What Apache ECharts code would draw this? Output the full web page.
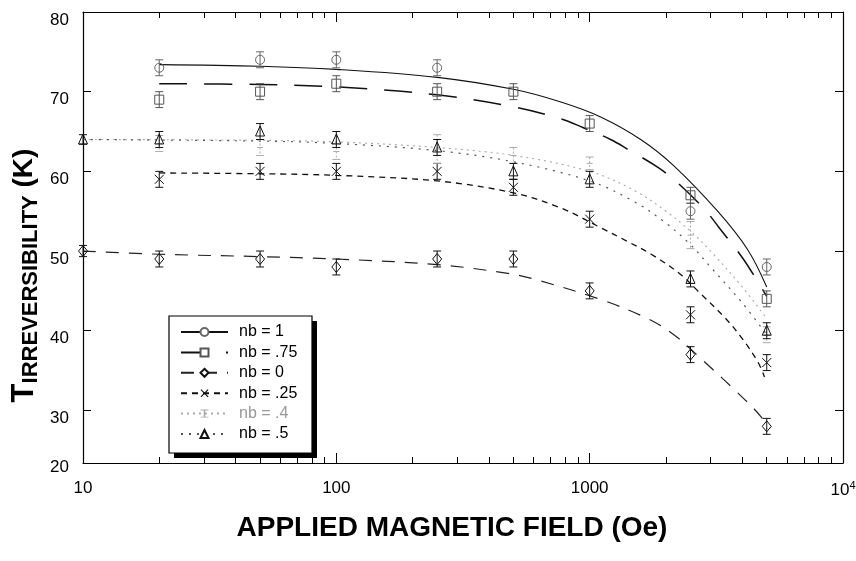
<!DOCTYPE html>
<html>
<head>
<meta charset="utf-8">
<script src="https://cdn.jsdelivr.net/npm/echarts@6/dist/echarts.min.js"></script>
<style>
  html, body { margin: 0; padding: 0; background: #fff; }
  #chart { width: 856px; height: 561px; }
</style>
</head>
<body>
<div id="chart"></div>
<script>
// Irreversibility temperature vs applied field, measured points [H (Oe), T (K), error (K)]
const pts_nb1   = [[20, 73, 1], [50, 74, 1], [100, 74, 1], [250, 73, 1], [2500, 55, 1], [5000, 48, 1]];
const pts_nb075 = [[20, 69, 1], [50, 70, 1], [100, 71, 1], [250, 70, 1], [500, 70, 1], [1000, 66, 1], [2500, 57, 1], [5000, 44, 1]];
const pts_nb0   = [[10, 50, 0.7], [20, 49, 1], [50, 49, 1], [100, 48, 1], [250, 49, 1], [500, 49, 1], [1000, 45, 1], [2500, 37, 1], [5000, 28, 1]];
const pts_nb025 = [[20, 59, 1], [50, 60, 1], [100, 60, 1], [250, 60, 1], [500, 58, 1], [1000, 54, 1], [2500, 42, 1], [5000, 36, 1]];
const pts_nb04  = [[20, 63.5, 1], [50, 63, 1], [100, 62.5, 1], [250, 62.8, 1.8], [500, 62, 1], [1000, 61, 0.8], [2500, 52, 1.7], [5000, 39.5, 1]];
const pts_nb05  = [[10, 64, 0.6], [20, 64, 1], [50, 65, 1], [100, 64, 1], [250, 63, 1], [500, 60, 1], [1000, 59, 1], [2500, 46.5, 1], [5000, 40, 1]];

// Fitted curves [H (Oe), T (K)]
const fit_nb1   = [[20, 73.4], [50, 73.2], [100, 72.8], [250, 71.8], [500, 70.3], [770, 68.7], [1110, 66.8], [1590, 64.0], [2150, 60.7], [3200, 55.0], [4200, 50.2], [5000, 45.5]];
const fit_nb075 = [[20, 71.0], [50, 70.9], [100, 70.6], [250, 69.6], [500, 68.1], [770, 66.6], [940, 65.5], [1210, 64.0], [1410, 62.8], [1860, 60.5], [2200, 58.7], [2830, 55.3], [3250, 52.9], [4040, 49.0], [5000, 44.3]];
const fit_nb0   = [[10, 50.0], [20, 49.6], [50, 49.3], [100, 49.0], [250, 48.3], [475, 47.2], [600, 46.5], [1110, 43.9], [1700, 41.5], [2150, 39.5], [2750, 36.5], [3700, 32.7], [4750, 29.2], [5000, 27.7]];
const fit_nb025 = [[20, 59.8], [50, 59.7], [100, 59.5], [250, 58.8], [500, 57.3], [770, 55.4], [1110, 52.9], [1410, 51.2], [1750, 49.6], [2280, 47.1], [2730, 44.7], [3380, 41.8], [3940, 39.3], [4610, 36.1], [4900, 34.2]];
const fit_nb04  = [[10, 64.0], [50, 63.9], [100, 63.7], [250, 63.0], [500, 62.0], [1000, 60.0], [1500, 57.6], [2000, 55.0], [2500, 52.5], [3000, 50.0], [4000, 45.5], [5000, 41.5]];
const fit_nb05  = [[10, 64.0], [50, 63.8], [100, 63.5], [250, 62.6], [500, 61.2], [1000, 58.8], [1500, 56.2], [2000, 53.5], [2500, 50.8], [3000, 48.0], [4000, 43.5], [5000, 39.5]];

const seriesNames = ['nb = 1', 'nb = .75', 'nb = 0', 'nb = .25', 'nb = .4', 'nb = .5'];

// Axis ticks and labels
const xMajorTicks = [10, 100, 1000, 10000];
const xMinorTicks = [20, 30, 40, 50, 60, 70, 80, 90, 200, 300, 400, 500, 600, 700, 800, 900, 2000, 3000, 4000, 5000, 6000, 7000, 8000, 9000];
const xTickLabels = ['10', '100', '1000', '10^4'];
const yTicks = [30, 40, 50, 60, 70, 80];
const yTickLabels = ['30', '40', '50', '60', '70', '80'];
const yBottomLabel = '20';
const yBottom = 23.4;

const FONT = '"Liberation Sans", Arial, Helvetica, sans-serif';

const groups = [
  { name: seriesNames[0], fit: fit_nb1,   pts: pts_nb1,   marker: 'circle',   lineColor: '#111', markColor: '#666', lineType: 'solid',   width: 1.1, legendSymbol: 'emptyCircle' },
  { name: seriesNames[1], fit: fit_nb075, pts: pts_nb075, marker: 'square',   lineColor: '#111', markColor: '#555', lineType: [28, 17],  width: 1.5, legendSymbol: 'emptyRect' },
  { name: seriesNames[2], fit: fit_nb0,   pts: pts_nb0,   marker: 'diamond',  lineColor: '#222', markColor: '#111', lineType: [13, 10],  width: 1.2, legendSymbol: 'emptyDiamond' },
  { name: seriesNames[3], fit: fit_nb025, pts: pts_nb025, marker: 'cross',    lineColor: '#111', markColor: '#111', lineType: [6, 5],    width: 1.3, legendSymbol: 'path://M0,1 L1,0 L10,9 L9,10 Z M9,0 L10,1 L1,10 L0,9 Z' },
  { name: seriesNames[4], fit: fit_nb04,  pts: pts_nb04,  marker: 'plus',     lineColor: '#aaa', markColor: '#aaa', lineType: [2, 4],    width: 1.1, legendSymbol: 'path://M4.4,0 H5.6 V10 H4.4 Z M2,0 H8 V1 H2 Z M2,9 H8 V10 H2 Z' },
  { name: seriesNames[5], fit: fit_nb05,  pts: pts_nb05,  marker: 'triangle', lineColor: '#555', markColor: '#111', lineType: [2, 6],    width: 1.2, legendSymbol: 'emptyTriangle' }
];

function markerShape(kind, cx, cy, color) {
  const r = 4.5;
  const style = { stroke: color, fill: null, lineWidth: 1 };
  switch (kind) {
    case 'circle':
      return { type: 'circle', shape: { cx: cx, cy: cy, r: r }, style: style };
    case 'square':
      return { type: 'rect', shape: { x: cx - r, y: cy - r, width: 2 * r, height: 2 * r }, style: style };
    case 'diamond':
      return { type: 'polygon', shape: { points: [[cx, cy - r - 1], [cx + r, cy], [cx, cy + r + 1], [cx - r, cy]] }, style: style };
    case 'cross':
      return { type: 'group', children: [
        { type: 'line', shape: { x1: cx - r, y1: cy - r, x2: cx + r, y2: cy + r }, style: style },
        { type: 'line', shape: { x1: cx - r, y1: cy + r, x2: cx + r, y2: cy - r }, style: style }
      ] };
    case 'plus':
      return { type: 'line', shape: { x1: cx - 3, y1: cy, x2: cx + 3, y2: cy }, style: style };
    case 'triangle':
      return { type: 'polygon', shape: { points: [[cx, cy - r - 1], [cx + r, cy + r], [cx - r, cy + r]] }, style: style };
  }
}

function pointRenderer(g) {
  return function (params, api) {
    const x = api.value(0), y = api.value(1), e = api.value(2);
    const c = api.coord([x, y]);
    const top = api.coord([x, y + e]);
    const bot = api.coord([x, y - e]);
    const cap = 4;
    const st = { stroke: g.markColor, lineWidth: 1 };
    const barStyle = g.marker === 'plus' ? { stroke: g.markColor, lineWidth: 1, lineDash: [2, 2] } : st;
    return {
      type: 'group',
      children: [
        { type: 'line', shape: { x1: c[0], y1: top[1], x2: c[0], y2: bot[1] }, style: barStyle },
        { type: 'line', shape: { x1: c[0] - cap, y1: top[1], x2: c[0] + cap, y2: top[1] }, style: st },
        { type: 'line', shape: { x1: c[0] - cap, y1: bot[1], x2: c[0] + cap, y2: bot[1] }, style: st },
        markerShape(g.marker, c[0], c[1], g.markColor)
      ]
    };
  };
}

const series = [];
groups.forEach(function (g) {
  series.push({
    name: g.name,
    type: 'line',
    data: g.fit,
    xAxisIndex: 0, yAxisIndex: 0,
    smooth: 0.35,
    showSymbol: false,
    symbol: g.legendSymbol,
    color: g.lineColor,
    itemStyle: { color: g.markColor },
    lineStyle: { color: g.lineColor, width: g.width, type: g.lineType },
    silent: true,
    z: 3
  });
});
groups.forEach(function (g) {
  series.push({
    name: g.name,
    type: 'custom',
    data: g.pts,
    xAxisIndex: 0, yAxisIndex: 0,
    encode: { x: 0, y: 1 },
    renderItem: pointRenderer(g),
    clip: false,
    silent: true,
    z: 4
  });
});

function logAxis(position, ticks, len, showLine, showLabels) {
  return {
    type: 'log', logBase: 10, min: 10, max: 10000, position: position,
    axisLine: { show: showLine, onZero: false, lineStyle: { color: '#000', width: 1.2 } },
    axisTick: { show: true, inside: true, length: len, customValues: ticks, lineStyle: { color: '#000', width: 1 } },
    axisLabel: showLabels ? {
      show: true, customValues: xMajorTicks, margin: 17, color: '#000', fontSize: 17, fontFamily: FONT,
      formatter: function (v) {
        const s = xTickLabels[xMajorTicks.indexOf(v)];
        if (s && s.indexOf('^') > 0) { const p = s.split('^'); return '{b|' + p[0] + '}{s|' + p[1] + '}'; }
        return s;
      },
      rich: { b: { fontSize: 17, fontFamily: FONT, color: '#000' }, s: { fontSize: 11, fontFamily: FONT, color: '#000', padding: [0, 0, 10, 0] } }
    } : { show: false },
    splitLine: { show: false },
    minorTick: { show: false }
  };
}

function valueAxis(position, showLabels) {
  return {
    type: 'value', min: yBottom, max: 80, position: position,
    axisLine: { show: true, onZero: false, lineStyle: { color: '#000', width: 1.2 } },
    axisTick: { show: true, inside: true, length: 8, customValues: yTicks, lineStyle: { color: '#000', width: 1 } },
    axisLabel: showLabels ? {
      show: true, customValues: [yBottom].concat(yTicks), margin: 14, color: '#000', fontSize: 17, fontFamily: FONT,
      formatter: function (v) {
        if (v === yBottom) return '{lo|' + yBottomLabel + '}';
        return '{n|' + yTickLabels[yTicks.indexOf(v)] + '}';
      },
      rich: {
        n: { fontSize: 17, fontFamily: FONT, color: '#000', padding: [16, 0, 0, 0] },
        lo: { fontSize: 17, fontFamily: FONT, color: '#000', padding: [8, 0, 0, 0] }
      }
    } : { show: false },
    splitLine: { show: false }
  };
}

const xBottom = logAxis('bottom', xMajorTicks, 10, true, true);
xBottom.name = 'APPLIED MAGNETIC FIELD (Oe)';
xBottom.nameLocation = 'middle';
xBottom.nameGap = 51;
xBottom.nameMoveOverlap = false;
xBottom.nameTextStyle = { fontSize: 28, fontWeight: 'bold', fontFamily: FONT, color: '#000', padding: [0, 22, 0, 0] };

const yLeft = valueAxis('left', true);
yLeft.name = '{t|T}{s|IRREVERSIBILITY}{k| (K)}';
yLeft.nameLocation = 'middle';
yLeft.nameRotate = 90;
yLeft.nameGap = 41;
yLeft.nameMoveOverlap = false;
yLeft.nameTextStyle = {
  color: '#000', fontFamily: FONT, fontWeight: 'bold', padding: [0, 76, 0, 0],
  rich: {
    t: { fontSize: 31, fontWeight: 'bold', fontFamily: FONT, color: '#000' },
    s: { fontSize: 22, fontWeight: 'bold', fontFamily: FONT, color: '#000', padding: [14, 0, 0, 0] },
    k: { fontSize: 28, fontWeight: 'bold', fontFamily: FONT, color: '#000' }
  }
};

// Legend frame with a solid drop shadow
const legendBox = { x: 169, y: 316, w: 143, h: 137, shadow: 5 };

const chart = echarts.init(document.getElementById('chart'), null, { renderer: 'canvas' });
chart.setOption({
  animation: false,
  backgroundColor: '#fff',
  grid: { left: 83, right: 13, top: 12, bottom: 98, outerBoundsMode: 'none', containLabel: false },
  xAxis: [
    xBottom,
    logAxis('bottom', xMinorTicks, 6, false, false),
    logAxis('top', xMajorTicks, 10, true, false),
    logAxis('top', xMinorTicks, 6, false, false)
  ],
  yAxis: [yLeft, valueAxis('right', false)],
  graphic: [
    { type: 'rect', z: 20, silent: true,
      shape: { x: legendBox.x + legendBox.shadow, y: legendBox.y + legendBox.shadow, width: legendBox.w, height: legendBox.h },
      style: { fill: '#000' } },
    { type: 'rect', z: 21, silent: true,
      shape: { x: legendBox.x, y: legendBox.y, width: legendBox.w, height: legendBox.h },
      style: { fill: '#fff', stroke: '#000', lineWidth: 1.2 } }
  ],
  legend: {
    z: 30,
    orient: 'vertical', left: legendBox.x + 11, top: legendBox.y + 8,
    itemWidth: 47, itemHeight: 10, itemGap: 4.4,
    padding: 0,
    selectedMode: false,
    textStyle: { fontSize: 16, color: '#000', fontFamily: FONT, padding: [0, 0, 0, 6] },
    data: seriesNames.map(function (n, i) {
      return groups[i].lineColor === '#aaa' ? { name: n, textStyle: { color: '#999' } } : { name: n };
    })
  },
  series: series
});
</script>
</body>
</html>
